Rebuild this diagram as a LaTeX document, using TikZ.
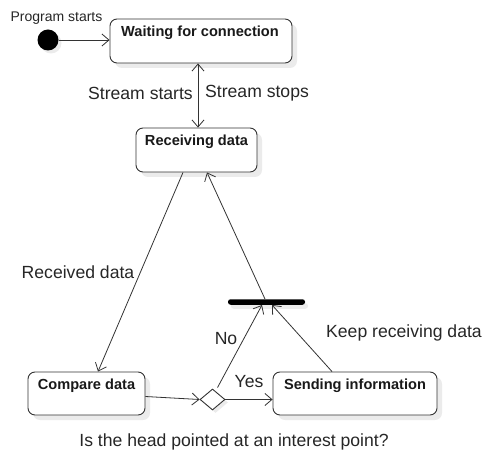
\documentclass[tikz,border=0pt]{standalone}
\usepackage{fontspec}
\setmainfont{Liberation Sans}
\usetikzlibrary{arrows.meta,shapes.geometric,shadows}

\tikzset{
  statebox/.style={draw=black!80, line width=0.9bp, rounded corners=7bp, fill=white,
    inner sep=0pt,
    drop shadow={shadow xshift=5bp, shadow yshift=-5bp, fill=black!8, opacity=1}},
  boxtext/.style={font=\fontsize{14.6bp}{17bp}\selectfont\bfseries, text=black!90, inner sep=0pt},
  lbl/.style={font=\fontsize{17.6bp}{20bp}\selectfont, text=black!85, inner sep=0pt},
  smalllbl/.style={font=\fontsize{14bp}{16bp}\selectfont, text=black!85, inner sep=0pt},
  flow/.style={draw=black!80, line width=0.8bp,
    -{Straight Barb[length=7bp,width=12bp,line width=0.8bp]}},
  dflow/.style={draw=black!80, line width=0.8bp,
    {Straight Barb[length=7bp,width=12bp,line width=0.8bp]}-{Straight Barb[length=7bp,width=12bp,line width=0.8bp]}},
}

\begin{document}
\begin{tikzpicture}[x=1bp,y=-1bp]
  \useasboundingbox (0,0) rectangle (485,452);

  % initial state
  \node[circle, fill=black, minimum size=21bp, inner sep=0pt,
        drop shadow={shadow xshift=3bp, shadow yshift=-3bp, fill=black!8, opacity=1}]
        (start) at (48,40) {};
  \node[smalllbl] (startlbl) at (56.5,18) {Program starts};

  % states
  \node[statebox, minimum width=182bp, minimum height=44bp] (wait) at (201,41) {};
  \node[boxtext] (waitt) at (200,33) {Waiting for connection};

  \node[statebox, minimum width=121bp, minimum height=44bp] (recv) at (196.5,150) {};
  \node[boxtext] (recvt) at (196.5,142) {Receiving data};

  \node[statebox, minimum width=117bp, minimum height=43bp] (cmp) at (86.5,393.5) {};
  \node[boxtext] (cmpt) at (86.5,386) {Compare data};

  \node[statebox, minimum width=164bp, minimum height=43bp] (send) at (355,393.5) {};
  \node[boxtext] (sendt) at (355,386) {Sending information};

  % decision and join bar
  \node[diamond, draw=black!80, line width=0.9bp, fill=white, inner sep=0pt,
        minimum width=25bp, minimum height=21bp,
        drop shadow={shadow xshift=3bp, shadow yshift=-3bp, fill=black!8, opacity=1}]
        (dec) at (212.5,399.5) {};
  \node[rectangle, fill=black, rounded corners=2.5bp, minimum width=77bp,
        minimum height=5.5bp, inner sep=0pt,
        drop shadow={shadow xshift=3bp, shadow yshift=-4bp, fill=black!7, opacity=1}]
        (bar) at (266.5,302) {};

  % transitions
  \coordinate (axis) at (198,0);
  \draw[flow] (start.east) -- (start.east -| wait.west);
  \draw[dflow] (wait.south -| axis) -- (recv.north -| axis);
  \draw[flow] ([xshift=-13.5bp]recv.south) -- ([xshift=11.5bp]cmp.north);
  \draw[flow] ([xshift=-1.5bp]bar.north) -- ([xshift=10.5bp]recv.south);
  \draw[flow] ([yshift=-3bp]cmp.east) -- (dec.west);
  \draw[flow] (dec.east) -- (dec.east -| send.west);
  \draw[flow] ([xshift=5bp,yshift=1bp]dec.north) -- ([xshift=-4.5bp]bar.south);
  \draw[flow] ([xshift=-23bp]send.north) -- ([xshift=5.5bp]bar.south);

  % labels
  \node[lbl, anchor=east] (sstart) at (193,93) {Stream starts};
  \node[lbl, anchor=west] (sstop) at (205,93) {Stream stops};
  \node[lbl] (rdata) at (78,272) {Received data};
  \node[lbl] (nolbl) at (226,339) {No};
  \node[lbl] (yeslbl) at (249,382) {Yes};
  \node[lbl, anchor=west] (keep) at (326,333) {Keep receiving data};
  \node[lbl] (question) at (234,442) {Is the head pointed at an interest point?};
\end{tikzpicture}
\end{document}
